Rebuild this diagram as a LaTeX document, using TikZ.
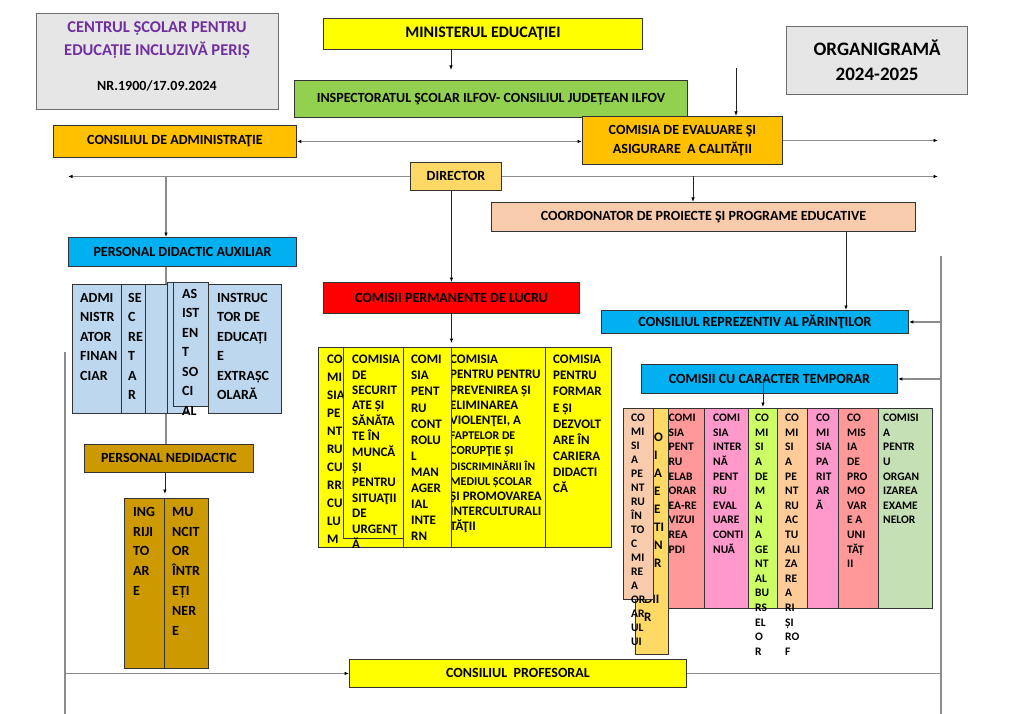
\documentclass[tikz,border=0pt]{standalone}
\usepackage{fontspec}
\setmainfont{Carlito}
\usetikzlibrary{arrows.meta}
\pgfdeclarelayer{bg}
\pgfsetlayers{bg,main}
\definecolor{titlegray}{HTML}{E6E6E6}
\definecolor{titleborder}{HTML}{6E6E6E}
\definecolor{titlepurple}{HTML}{7030A0}
\definecolor{cyellow}{HTML}{FFFF00}
\definecolor{cgreen}{HTML}{92D050}
\definecolor{corange}{HTML}{FFC000}
\definecolor{cdirector}{HTML}{FFD966}
\definecolor{cpeach}{HTML}{F8CBAD}
\definecolor{cblue}{HTML}{00B0F0}
\definecolor{clightblue}{HTML}{BDD7EE}
\definecolor{cgold}{HTML}{CC9900}
\definecolor{cred}{HTML}{FF0000}
\definecolor{csalmon}{HTML}{FF9999}
\definecolor{cpink}{HTML}{FF99CC}
\definecolor{clime}{HTML}{CCFF66}
\definecolor{clorange}{HTML}{FFCC99}
\definecolor{cpalegreen}{HTML}{C5E0B4}
\definecolor{linegray}{HTML}{8C8C8C}
\newcommand{\myfs}[2]{\fontsize{#1}{#2}\selectfont}
\tikzset{
  box/.style={draw=black!80, line width=0.9pt, inner sep=0pt, anchor=north west, align=center, font=\myfs{14}{19}\bfseries},
  graybox/.style={box, draw=titleborder, line width=1.2pt, fill=titlegray},
  txt/.style={anchor=north west, align=left, inner sep=0pt},
  auxt/.style={txt, font=\myfs{14}{19.5}\bfseries},
  nedt/.style={txt, font=\myfs{14}{19.8}\bfseries},
  permt/.style={txt, font=\myfs{13}{16.1}\bfseries},
  tmpt/.style={txt, font=\myfs{11.5}{14.6}\bfseries},
  gline/.style={draw=linegray, line width=1.3pt},
  blk/.style={draw=black!85, line width=0.8pt},
  tip/.style={-{Latex[length=4.5pt,width=3.5pt,color=black]}},
  bothtip/.style={{Latex[length=4.5pt,width=3.5pt,color=black]}-{Latex[length=4.5pt,width=3.5pt,color=black]}}
}
\begin{document}
\begin{tikzpicture}[x=1pt,y=-1pt]
\useasboundingbox (0,0) rectangle (1009,714);

% ---- header boxes
\node[graybox, minimum width=242pt, minimum height=96pt] (title) at (36,13) {};
\node[inner sep=0pt, align=center, text=titlepurple, font=\myfs{16.5}{23}\bfseries] (titleA) at (157,40.5) {CENTRUL ȘCOLAR PENTRU\\EDUCAȚIE INCLUZIVĂ PERIȘ};
\node[inner sep=0pt, font=\myfs{14}{17}\bfseries] (titleB) at (157,86) {NR.1900/17.09.2024};
\node[graybox, minimum width=181pt, minimum height=68pt, font=\myfs{19}{25}\bfseries] (org) at (786,26) {ORGANIGRAMĂ\\2024-2025};

\node[box, fill=cyellow, minimum width=319pt, minimum height=31pt, font=\myfs{16}{19}\bfseries] (ministry) at (323,18) {MINISTERUL EDUCAŢIEI};
\node[box, fill=cgreen, minimum width=393pt, minimum height=37pt] (insp) at (294,80) {INSPECTORATUL ŞCOLAR ILFOV- CONSILIUL JUDEȚEAN ILFOV};
\node[box, fill=corange, minimum width=200pt, minimum height=48pt] (ce) at (582,116) {COMISIA DE EVALUARE ŞI\\ASIGURARE\ \ A CALITĂŢII};
\node[box, fill=corange, minimum width=243pt, minimum height=32pt] (admin) at (53,125) {CONSILIUL DE ADMINISTRAŢIE};
\node[box, fill=cdirector, minimum width=91pt, minimum height=28pt] (director) at (410,162) {DIRECTOR};
\node[box, fill=cpeach, minimum width=424pt, minimum height=29pt] (coord) at (491,202) {COORDONATOR DE PROIECTE ŞI PROGRAME EDUCATIVE};
\node[box, fill=cblue, minimum width=228pt, minimum height=29pt] (pda) at (68,237) {PERSONAL DIDACTIC AUXILIAR};
\node[box, fill=cred, minimum width=256pt, minimum height=31pt] (cpl) at (323,282) {COMISII PERMANENTE DE LUCRU};
\node[box, fill=cblue, minimum width=307pt, minimum height=23pt] (crp) at (601,310) {CONSILIUL REPREZENTIV AL PĂRINŢILOR};
\node[box, fill=cblue, minimum width=256pt, minimum height=29pt] (cct) at (641,364) {COMISII CU CARACTER TEMPORAR};
\node[box, fill=cgold, minimum width=169pt, minimum height=28pt] (pn) at (84,444) {PERSONAL NEDIDACTIC};
\node[box, fill=cyellow, minimum width=337pt, minimum height=28pt] (cp) at (349,659) {CONSILIUL\ \ PROFESORAL};

% ---- auxiliary staff
\node[box, fill=clightblue, minimum width=49pt, minimum height=129pt] (adm) at (72,284) {};
\node[auxt] (admT) at (80,293) {ADMI\\NISTR\\ATOR\\FINAN\\CIAR};
\node[box, fill=clightblue, minimum width=24pt, minimum height=129pt] (sec) at (121,284) {};
\node[auxt] (secT) at (128,293) {SE\\C\\RE\\T\\A\\R};
\node[box, fill=clightblue, minimum width=31pt, minimum height=129pt] (auxe) at (145,284) {};
\node[box, fill=clightblue, minimum width=20pt, minimum height=131pt] (auxf) at (167,282) {};
\node[box, fill=clightblue, minimum width=35pt, minimum height=124pt] (asist) at (173,282) {};
\node[auxt] (asistT) at (182,289) {AS\\IST\\EN\\T\\SO\\CI\\AL};
\node[box, fill=clightblue, minimum width=73pt, minimum height=129pt] (instr) at (208,284) {};
\node[auxt] (instrT) at (217,293) {INSTRUC\\TOR DE\\EDUCAȚI\\E\\EXTRAȘC\\OLARĂ};

% ---- non-teaching staff
\node[box, fill=cgold, minimum width=40pt, minimum height=170pt] (ingr) at (124,498) {};
\node[nedt] (ingrT) at (133,507) {ING\\RIJI\\TO\\AR\\E};
\node[box, fill=cgold, minimum width=44pt, minimum height=170pt] (munc) at (164,498) {};
\node[nedt] (muncT) at (172,507) {MU\\NCIT\\OR\\ÎNTR\\EȚI\\NER\\E};

% ---- permanent commissions
\node[box, fill=cyellow, minimum width=85pt, minimum height=200pt] (p1) at (318,347) {};
\node[permt, font=\myfs{13}{18}\bfseries] (p1T) at (327,355) {CO\\MI\\SIA\\PE\\NT\\RU\\CU\\RRI\\CU\\LU\\M};
\node[box, fill=cyellow, minimum width=60pt, minimum height=191pt] (p2) at (343,347) {};
\node[permt, font=\myfs{13}{15.4}\bfseries] (p2T) at (352,355) {COMISIA\\DE\\SECURIT\\ATE ȘI\\SĂNĂTA\\TE ÎN\\MUNCĂ\\ȘI\\PENTRU\\SITUAŢII\\DE\\URGENŢ\\Ă};
\node[box, fill=cyellow, minimum width=94pt, minimum height=200pt] (p4) at (451,347) {};
\node[permt, font=\myfs{13}{15.2}\bfseries] (p4T) at (450,355) {COMISIA\\PENTRU PENTRU\\PREVENIREA ȘI\\ELIMINAREA\\VIOLENŢEI, A\\{\myfs{11.8}{15.2}FAPTELOR DE}\\{\myfs{12.3}{15.2}CORUPŢIE ȘI}\\{\myfs{11.5}{15.2}DISCRIMINĂRII ÎN}\\{\myfs{12}{15.2}MEDIUL ȘCOLAR}\\ȘI PROMOVAREA\\INTERCULTURALI\\TĂŢII};
\node[box, fill=cyellow, minimum width=48pt, minimum height=200pt] (p3) at (403,347) {};
\node[permt] (p3T) at (411,355) {COMI\\SIA\\PENT\\RU\\CONT\\ROLU\\L\\MAN\\AGER\\IAL\\INTE\\RN};
\node[box, fill=cyellow, minimum width=66pt, minimum height=200pt] (p5) at (545,347) {};
\node[permt] (p5T) at (553,355) {COMISIA\\PENTRU\\FORMAR\\E ȘI\\DEZVOLT\\ARE ÎN\\CARIERA\\DIDACTI\\CĂ};

% ---- temporary commissions
\node[box, fill=csalmon, minimum width=36pt, minimum height=200pt] (t2) at (668,408) {};
\node[tmpt] (t2T) at (668.5,414) {COMI\\SIA\\PENT\\RU\\ELAB\\ORAR\\EA-RE\\VIZUI\\REA\\PDI};
\node[box, fill=cdirector, minimum width=33pt, minimum height=246pt] (t0) at (635,408) {};
\node[txt, font=\myfs{13}{17.9}\bfseries] (t0T) at (654,433) {O\\I\\A\\E\\E\\TI\\N\\R};
\node[txt, font=\myfs{13}{18}\bfseries] (t0U) at (644,595) {DII\\R};
\node[box, fill=cpeach, minimum width=30pt, minimum height=191pt] (t1) at (623,408) {};
\node[tmpt, font=\myfs{11.5}{14}\bfseries] (t1T) at (631,414) {CO\\MI\\SI\\A\\PE\\NT\\RU\\ÎN\\TO\\C\\MI\\RE\\A\\OR\\AR\\UL\\UI};
\node[box, fill=cpink, minimum width=44pt, minimum height=200pt] (t3) at (704,408) {};
\node[tmpt] (t3T) at (713,414) {COMI\\SIA\\INTER\\NĂ\\PENT\\RU\\EVAL\\UARE\\CONTI\\NUĂ};
\node[box, fill=clime, minimum width=29pt, minimum height=200pt] (t4) at (748,408) {};
\node[tmpt] (t4T) at (755,414) {CO\\MI\\SI\\A\\DE\\M\\A\\N\\A\\GE\\NT\\AL\\BU\\RS\\EL\\O\\R};
\node[box, fill=clorange, minimum width=30pt, minimum height=200pt] (t5) at (777,408) {};
\node[tmpt] (t5T) at (785,414) {CO\\MI\\SI\\A\\PE\\NT\\RU\\AC\\TU\\ALI\\ZA\\RE\\A\\RI\\ȘI\\RO\\F};
\node[box, fill=cpink, minimum width=31pt, minimum height=200pt] (t6) at (807,408) {};
\node[tmpt] (t6T) at (816,414) {CO\\MI\\SIA\\PA\\RIT\\AR\\Ă};
\node[box, fill=csalmon, minimum width=40pt, minimum height=200pt] (t7) at (838,408) {};
\node[tmpt] (t7T) at (847,414) {CO\\MIS\\IA\\DE\\PRO\\MO\\VAR\\E A\\UNI\\TĂȚ\\II};
\node[box, fill=cpalegreen, minimum width=54pt, minimum height=200pt] (t8) at (878,408) {};
\node[tmpt] (t8T) at (883,414) {COMISI\\A\\PENTR\\U\\ORGAN\\IZAREA\\EXAME\\NELOR};

% ---- free connector ends
\coordinate (m2) at (451,70);
\coordinate (ceTop) at (736,68);
\coordinate (rArr) at (938,138);
\coordinate (dL) at (68,176);
\coordinate (dR) at (938,176);
\coordinate (b1) at (166,176);
\coordinate (b2) at (693,176);
\coordinate (b3) at (846,231);
\coordinate (rTop) at (941,256);
\coordinate (rBot) at (941,714);
\coordinate (lTop) at (65,352);
\coordinate (lBot) at (65,714);
\coordinate (bL) at (65,675);
\coordinate (bR) at (941,675);

% ---- connectors
\begin{pgfonlayer}{bg}
\fill[white] (0,0) rectangle (1009,714);
\draw[blk,tip] (ministry.south -| m2) -- (m2);
\draw[blk,tip] (ceTop) -- (ceTop |- ce.north);
\draw[gline,bothtip] (admin.east) -- (admin.east -| ce.west);
\draw[gline,tip] (ce.east) -- (ce.east -| rArr);
\draw[gline,tip] (director.west) -- (director.west -| dL);
\draw[gline,tip] (director.east) -- (director.east -| dR);
\draw[gline,tip] (b1) -- (b1 |- pda.north);
\draw[blk,tip] (b2) -- (b2 |- coord.north);
\draw[blk,tip] (cpl.north |- director.south) -- (cpl.north);
\draw[blk,tip] (b3) -- (b3 |- crp.north);
\draw[gline] (rTop) -- (rBot);
\draw[gline] (lTop) -- (lBot);
\draw[gline,tip] (rTop |- crp.east) -- (crp.east);
\draw[gline,tip] (rTop |- cct.east) -- (cct.east);
\draw[gline] (b1 |- pda.south) -- (b1 |- pn.north);
\draw[blk,tip,shorten >=4pt] (pn.south -| ingr.north east) -- (ingr.north east);
\draw[blk,tip,shorten >=4pt] (cpl.south) -- (cpl.south |- p3.north);
\draw[gline,tip] (cp.west -| bL) -- (cp.west);
\draw[gline] (cp.east) -- (cp.east -| bR);
\end{pgfonlayer}
\draw[blk,tip,shorten >=1pt] (t4.north |- cct.center) -- (t4.north);
\end{tikzpicture}
\end{document}
